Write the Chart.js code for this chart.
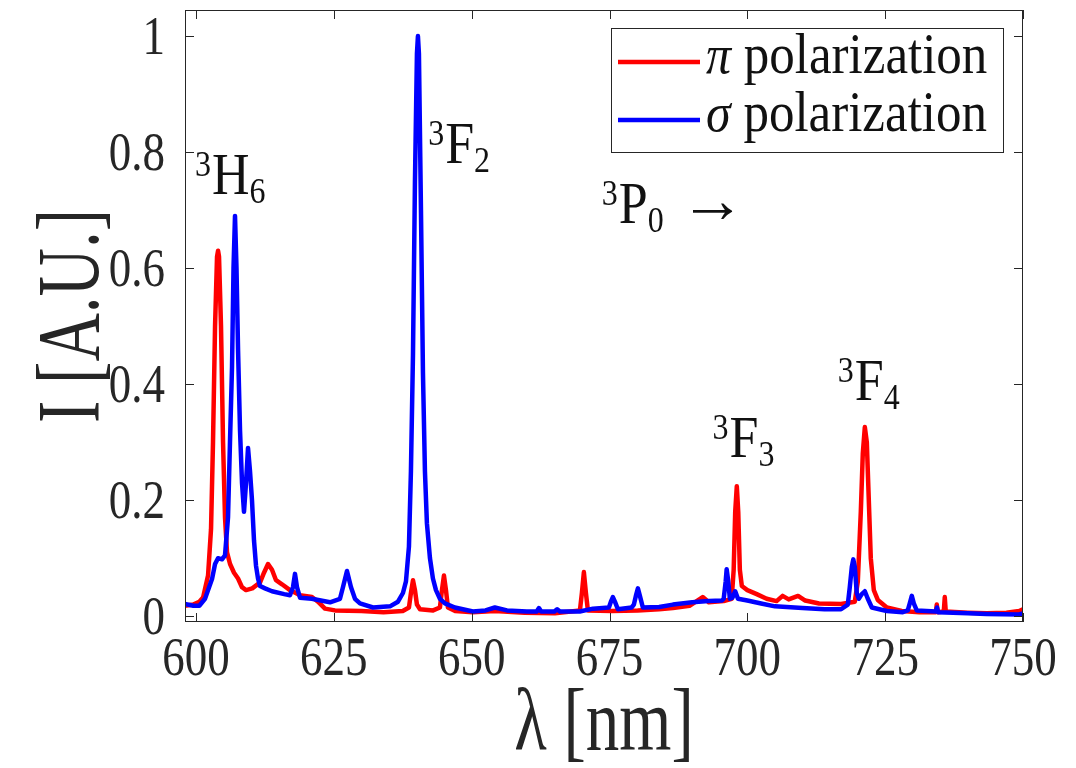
<!DOCTYPE html>
<html><head><meta charset="utf-8">
<script src="https://cdn.jsdelivr.net/npm/chart.js@4.4.0/dist/chart.umd.min.js"></script>
<style>html,body{margin:0;padding:0;background:#fff}#wrap{width:1076px;height:768px}</style>
</head><body><div id="wrap"><canvas id="c" width="1076" height="768"></canvas></div>
<script>
// ---- data ----
const piWavelength = [598.0,599.5,600.6,601.27,602.18,602.72,603.08,603.45,603.81,604.0,604.17,604.53,604.90,605.26,605.62,606.17,606.89,607.62,608.34,609.07,610.2,611.6,612.33,613.06,613.78,614.51,615.59,617.04,618.86,621.03,622.12,623.39,625.20,630.0,634.0,637.5,638.62,638.98,639.35,639.71,640.07,640.62,643.0,644.24,644.61,644.97,645.33,645.69,647.0,650.2,654.2,659.6,665.1,669.63,669.99,670.35,670.72,671.08,675.4,680.1,684.0,686.5,689.5,691.9,693.0,695.7,697.16,697.52,697.80,698.09,698.35,698.64,699.00,700.0,701.7,703.5,705.3,706.4,707.5,709.2,710.5,713.0,717.0,719.49,720.04,720.58,720.94,721.31,721.67,722.03,722.39,722.94,723.66,725.3,728.0,731.2,734.18,734.36,734.54,735.63,735.81,735.99,740.0,743.4,747.0,749.3,750.0];
const piIntensity = [0.018,0.020,0.025,0.032,0.070,0.150,0.300,0.500,0.620,0.630,0.620,0.500,0.300,0.170,0.110,0.090,0.075,0.065,0.050,0.045,0.048,0.058,0.075,0.090,0.080,0.062,0.055,0.045,0.036,0.033,0.025,0.013,0.010,0.009,0.007,0.009,0.015,0.040,0.062,0.045,0.020,0.012,0.010,0.015,0.045,0.070,0.045,0.015,0.009,0.007,0.009,0.006,0.005,0.010,0.040,0.076,0.040,0.010,0.009,0.010,0.012,0.014,0.018,0.033,0.024,0.026,0.030,0.080,0.180,0.224,0.180,0.080,0.052,0.045,0.038,0.030,0.026,0.035,0.029,0.035,0.027,0.022,0.021,0.025,0.060,0.180,0.280,0.326,0.300,0.200,0.100,0.045,0.028,0.015,0.009,0.007,0.007,0.020,0.007,0.008,0.033,0.008,0.006,0.005,0.006,0.009,0.012];
const sigmaWavelength = [598.0,599.5,600.6,601.63,602.90,603.45,603.99,604.71,605.26,605.80,606.16,606.53,606.80,607.07,607.34,607.62,607.98,608.34,608.70,609.07,609.43,609.79,610.15,610.52,610.88,611.24,611.60,612.51,613.78,616.0,617.04,617.59,617.95,618.31,618.86,621.0,624.30,626.11,626.65,627.38,628.11,628.83,629.74,632.10,635.18,636.63,637.53,638.08,638.62,638.98,639.35,639.71,640.07,640.25,640.43,640.80,641.16,641.52,641.88,642.43,642.97,643.52,644.24,645.15,646.96,650.23,652.5,654.2,656.4,660.0,661.8,662.2,662.6,665.0,665.5,666.0,669.6,672.0,674.89,675.25,675.61,675.98,676.52,679.0,679.42,679.78,680.15,680.51,681.05,684.0,686.5,690.0,693.0,695.4,695.71,696.07,696.25,696.54,696.83,697.3,697.8,698.3,700.0,702.5,705.0,710.0,714.0,717.0,718.22,718.58,718.95,719.22,719.49,719.85,720.22,720.76,721.31,721.85,722.58,725.3,728.2,729.10,729.46,729.83,730.19,730.73,734.2,734.4,734.6,740.0,743.4,749.3,750.0];
const sigmaIntensity = [0.021,0.018,0.018,0.030,0.064,0.090,0.100,0.098,0.105,0.170,0.300,0.430,0.600,0.690,0.600,0.460,0.320,0.230,0.180,0.230,0.290,0.250,0.200,0.130,0.087,0.065,0.052,0.048,0.043,0.038,0.036,0.050,0.073,0.050,0.032,0.030,0.024,0.030,0.050,0.078,0.050,0.030,0.022,0.015,0.017,0.025,0.040,0.060,0.120,0.250,0.450,0.750,0.970,1.000,0.970,0.700,0.420,0.250,0.160,0.100,0.065,0.045,0.030,0.022,0.015,0.008,0.010,0.015,0.010,0.008,0.008,0.014,0.008,0.008,0.012,0.008,0.008,0.013,0.015,0.025,0.033,0.025,0.012,0.015,0.020,0.035,0.048,0.035,0.015,0.016,0.020,0.024,0.026,0.027,0.030,0.060,0.081,0.060,0.030,0.032,0.043,0.030,0.027,0.022,0.017,0.014,0.012,0.012,0.020,0.050,0.085,0.098,0.085,0.040,0.030,0.038,0.043,0.030,0.015,0.009,0.007,0.010,0.022,0.035,0.022,0.010,0.008,0.015,0.007,0.005,0.004,0.003,0.005];
const xTickValues = [600,625,650,675,700,725,750];
const yTickValues = [0,0.2,0.4,0.6,0.8,1];
const yTickLabels = ['0','0.2','0.4','0.6','0.8','1'];
const xTitle = 'λ [nm]';
const yTitle = 'I [A.U.]';
const legendSymbols = ['π','σ'];
const legendText = ' polarization';
const peakLabels = [
  {sup:'3', main:'H', sub:'6', after:'', x:599.8, y:0.727},
  {sup:'3', main:'F', sub:'2', after:'', x:642.1, y:0.781},
  {sup:'3', main:'P', sub:'0', after:'→', x:673.6, y:0.677},
  {sup:'3', main:'F', sub:'3', after:'', x:693.7, y:0.275},
  {sup:'3', main:'F', sub:'4', after:'', x:716.4, y:0.373}
];

const FONT = "'Liberation Serif','DejaVu Serif',serif";
const AXIS = '#262626';
const INK = '#111';
const RED = '#ff0000', BLUE = '#0000ff';

function pts(xs, ys){ return xs.map((x,i)=>({x:x, y:ys[i]})); }

function stretchedText(ctx, s, x, y, font, align, sy, rot){
  ctx.save();
  ctx.translate(x, y);
  if (rot) ctx.rotate(rot);
  ctx.scale(1, sy);
  ctx.font = font; ctx.textAlign = align; ctx.textBaseline = 'alphabetic';
  ctx.fillText(s, 0, 0);
  ctx.restore();
}

const framePlugin = {
  id:'frame',
  afterDraw(chart){
    const {ctx, chartArea:a, scales:{x, y}} = chart;
    ctx.save();
    ctx.strokeStyle = AXIS; ctx.lineWidth = 1;
    ctx.strokeRect(a.left+0.5, a.top+0.5, a.right-a.left-1, a.bottom-a.top-1);
    const L = 9;
    ctx.beginPath();
    xTickValues.forEach(v=>{
      const px = Math.round(x.getPixelForValue(v))+0.5;
      ctx.moveTo(px, a.bottom); ctx.lineTo(px, a.bottom-L);
      ctx.moveTo(px, a.top); ctx.lineTo(px, a.top+L);
    });
    yTickValues.forEach(v=>{
      const py = Math.round(y.getPixelForValue(v))+0.5;
      ctx.moveTo(a.left, py); ctx.lineTo(a.left+L, py);
      ctx.moveTo(a.right, py); ctx.lineTo(a.right-L, py);
    });
    ctx.stroke();

    // tick labels and axis titles
    ctx.fillStyle = AXIS;
    const tickFont = '45px ' + FONT;
    xTickValues.forEach(v=>{
      stretchedText(ctx, String(v), x.getPixelForValue(v), a.bottom + 53, tickFont, 'center', 1.22);
    });
    yTickValues.forEach((v,i)=>{
      stretchedText(ctx, yTickLabels[i], a.left - 20, y.getPixelForValue(v) + 18, tickFont, 'right', 1.22);
    });
    stretchedText(ctx, xTitle, (a.left + a.right)/2, 750, '67px ' + FONT, 'center', 1.33);
    stretchedText(ctx, yTitle, 98, (a.top + a.bottom)/2, '67px ' + FONT, 'center', 1.33, -Math.PI/2);

    // legend
    const bw = 392, bh = 124;
    const bx = a.right - 20 - bw, by = a.top + 18;
    ctx.fillStyle = '#fff';
    ctx.fillRect(bx, by, bw, bh);
    ctx.strokeStyle = AXIS; ctx.lineWidth = 1;
    ctx.strokeRect(bx+0.5, by+0.5, bw, bh);
    const colors = [RED, BLUE];
    const rows = [34, 92];
    legendSymbols.forEach((s,i)=>{
      const ly = by + rows[i];
      ctx.strokeStyle = colors[i]; ctx.lineWidth = 4.5;
      ctx.beginPath(); ctx.moveTo(bx+7, ly); ctx.lineTo(bx+89, ly); ctx.stroke();
      ctx.fillStyle = INK;
      let tx = bx + 95;
      stretchedText(ctx, s, tx, ly + 11, 'italic 50px ' + FONT, 'left', 1.1);
      ctx.font = 'italic 50px ' + FONT;
      tx += ctx.measureText(s).width;
      stretchedText(ctx, legendText, tx, ly + 11, '51px ' + FONT, 'left', 1.1);
    });

    // peak labels
    ctx.fillStyle = INK;
    peakLabels.forEach(p=>{
      let px = x.getPixelForValue(p.x);
      const py = y.getPixelForValue(p.y);
      const sf = '32px ' + FONT, mf = '52px ' + FONT;
      stretchedText(ctx, p.sup, px, py - 18, sf, 'left', 1.15);
      ctx.font = sf; px += ctx.measureText(p.sup).width + 1;
      stretchedText(ctx, p.main, px, py, mf, 'left', 1.15);
      ctx.font = mf; px += ctx.measureText(p.main).width;
      stretchedText(ctx, p.sub, px, py + 9, sf, 'left', 1.15);
      ctx.font = sf; px += ctx.measureText(p.sub).width;
      if (p.after){ stretchedText(ctx, p.after, px + 16, py - 1, '66px ' + FONT, 'left', 1.0); }
    });
    ctx.restore();
  }
};

new Chart(document.getElementById('c'), {
  type:'line',
  data:{
    datasets:[
      {label:'σ polarization', data:pts(sigmaWavelength, sigmaIntensity), borderColor:BLUE, borderWidth:4.5, borderJoinStyle:'round', borderCapStyle:'round', pointRadius:0, tension:0, fill:false, order:0},
      {label:'π polarization', data:pts(piWavelength, piIntensity), borderColor:RED, borderWidth:4.5, borderJoinStyle:'round', borderCapStyle:'round', pointRadius:0, tension:0, fill:false, order:1}
    ]
  },
  options:{
    responsive:false, animation:false, devicePixelRatio:1,
    layout:{padding:{top:10, right:53, left:0, bottom:0}},
    plugins:{legend:{display:false}, tooltip:{enabled:false}},
    scales:{
      x:{
        type:'linear', min:598, max:750,
        afterBuildTicks:s=>{ s.ticks = xTickValues.map(v=>({value:v})); },
        afterFit:s=>{ s.height = 146; s.paddingLeft = 0; s.paddingRight = 0; },
        grid:{display:false, drawTicks:false},
        border:{display:false},
        ticks:{display:false},
        title:{display:false, text:xTitle}
      },
      y:{
        type:'linear', min:-0.01, max:1.045,
        afterBuildTicks:s=>{ s.ticks = yTickValues.map(v=>({value:v})); },
        afterFit:s=>{ s.width = 185; s.paddingTop = 0; s.paddingBottom = 0; },
        grid:{display:false, drawTicks:false},
        border:{display:false},
        ticks:{display:false},
        title:{display:false, text:yTitle}
      }
    }
  },
  plugins:[framePlugin]
});
</script></body></html>
